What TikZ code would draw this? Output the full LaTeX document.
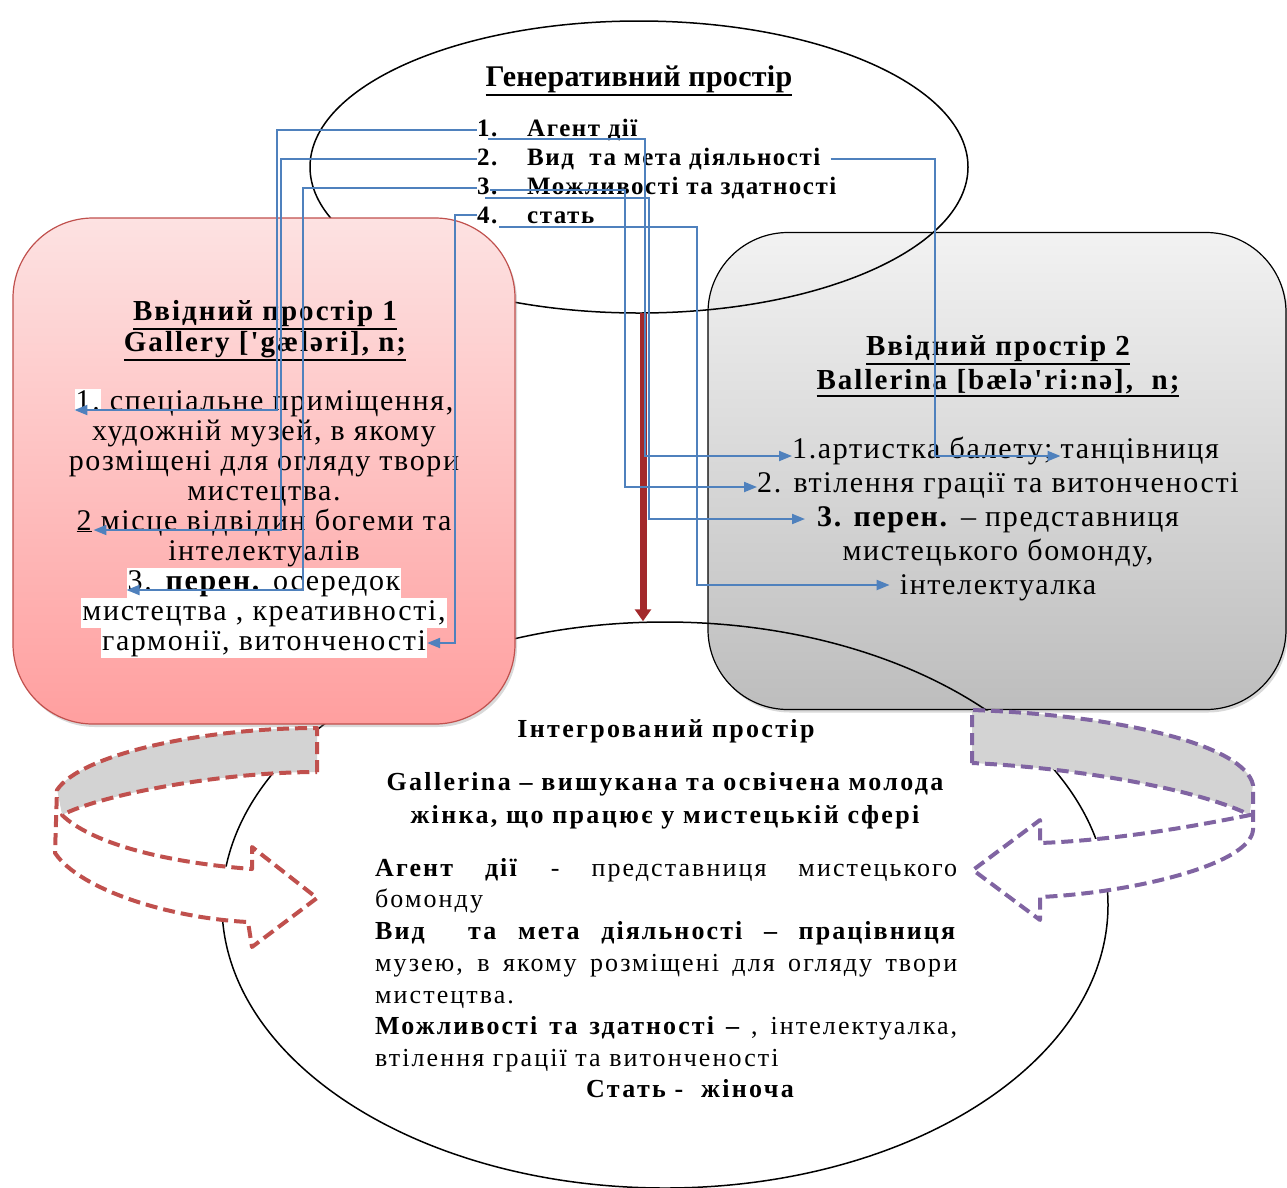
\documentclass[tikz,border=0pt]{standalone}
\usepackage{fontspec}
\setmainfont{Liberation Serif}[Ligatures=TeXOff]
\usepackage{tikz}
\usetikzlibrary{positioning,arrows.meta,shapes.geometric,shadows}

\definecolor{linkblue}{HTML}{4F81BD}
\definecolor{boxred}{HTML}{C0504D}
\definecolor{pinktop}{HTML}{FDE2E2}
\definecolor{pinkbot}{HTML}{FF9F9F}
\definecolor{graytop}{HTML}{F2F2F2}
\definecolor{graybot}{HTML}{BDBDBD}
\definecolor{arrowred}{HTML}{A3292B}
\definecolor{dashred}{HTML}{C0504D}
\definecolor{dashviolet}{HTML}{8064A2}
\definecolor{bandgray}{HTML}{D3D3D3}

\newcommand{\ulthick}[1]{\leavevmode\vtop{\hbox{#1}\kern2pt\hrule height 1.8pt}}
\newcommand{\fsz}[2]{\fontsize{#1}{#2}\selectfont}

\begin{document}
\begin{tikzpicture}[x=1pt, y=-1pt,
    space/.style={draw, ellipse, line width=1.5pt, inner sep=0pt},
    inbox/.style={rounded corners=80pt, line width=1.2pt, inner sep=0pt,
                  drop shadow={shadow xshift=2pt, shadow yshift=-3pt, opacity=0.3}},
    gtxt/.style={inner sep=0pt, anchor=base west,
                 font=\fsz{25}{29}\bfseries\addfontfeatures{LetterSpace=6}},
    hd/.style={inner sep=0pt, anchor=base,
               font=\fsz{29}{31}\bfseries\addfontfeatures{LetterSpace=7}},
    ln/.style={inner sep=0pt, anchor=base,
               font=\fsz{30}{30}\addfontfeatures{LetterSpace=5.5}},
    hl/.style={fill=white, inner xsep=1pt, inner ysep=0pt,
               text height=22pt, text depth=8pt},
    bhd/.style={inner sep=0pt, anchor=base,
                font=\fsz{26}{32}\bfseries\addfontfeatures{LetterSpace=9}},
    bt/.style={inner sep=0pt, font=\fsz{26}{31.7}\addfontfeatures{LetterSpace=8}},
    link/.style={draw=linkblue, line width=2pt, -{Triangle[length=13pt,width=10pt]}},
    flow/.style={draw=arrowred, line width=7pt, -{Triangle[length=12pt,width=16pt]}},
    turn/.style={line width=4pt, dash pattern=on 12pt off 6pt, line join=round},
  ]
  \useasboundingbox (0,0) rectangle (1287,1187);

  % input space 2 (behind the ellipses)
  \node[inbox, top color=graytop, bottom color=graybot, draw=black,
        minimum width=578pt, minimum height=477pt] (in2) at (997,471) {};

  % generic and blended spaces
  \node[space, minimum width=658pt, minimum height=292pt] (gen) at (639,167) {};
  \node[space, minimum width=886pt, minimum height=566pt] (blend) at (665,905) {};

  % input space 1
  \node[inbox, top color=pinktop, bottom color=pinkbot, draw=boxred,
        minimum width=502pt, minimum height=506pt] (in1) at (264,471) {};

  % projection arrow
  \coordinate (fstart) at (643,313);
  \draw[flow] (fstart) -- (fstart |- blend.north);

  % turning arrows into the blend
  \fill[bandgray] (317,728) .. controls (200,728) and (80,755) .. (57,790)
    -- (62,815) .. controls (100,795) and (220,772) .. (317,772) -- cycle;
  \fill[white] (57,790) -- (55,853) .. controls (80,890) and (170,918) .. (248,922)
    -- (252,947) -- (317,898) -- (252,847) -- (252,869)
    .. controls (160,862) and (90,842) .. (62,815) -- cycle;
  \draw[turn, dashred] (317,772) -- (317,728) .. controls (200,728) and (80,755) .. (57,790)
    -- (55,853) .. controls (80,890) and (170,918) .. (248,922)
    -- (252,947) -- (317,898) -- (252,847) -- (252,869)
    .. controls (160,862) and (90,842) .. (62,815)
    .. controls (100,795) and (220,772) .. (317,772) -- cycle;

  \fill[bandgray] (972,710) .. controls (1120,715) and (1245,745) .. (1253,785)
    -- (1250,815) .. controls (1200,790) and (1080,768) .. (972,763) -- cycle;
  \fill[white] (1253,785) -- (1253,830) .. controls (1250,865) and (1130,893) .. (1040,897)
    -- (1040,920) -- (973,870) -- (1040,820) -- (1040,843)
    .. controls (1120,840) and (1200,825) .. (1250,815) -- cycle;
  \draw[turn, dashviolet] (972,763) -- (972,710) .. controls (1120,715) and (1245,745) .. (1253,785)
    -- (1253,830) .. controls (1250,865) and (1130,893) .. (1040,897)
    -- (1040,920) -- (973,870) -- (1040,820) -- (1040,843)
    .. controls (1120,840) and (1200,825) .. (1250,815)
    .. controls (1200,790) and (1080,768) .. (972,763) -- cycle;

  % generic space text
  \node[inner sep=0pt, anchor=base, font=\fsz{30}{30}\bfseries\addfontfeatures{LetterSpace=1}]
    (gtitle) at (639,86) {\ulthick{Генеративний простір}};
  \node[gtxt] (g1) at (477,136) {\makebox[50pt][l]{1.}Агент дії};
  \node[gtxt] (g2) at (477,165) {\makebox[50pt][l]{2.}Вид\ \ та мета діяльності};
  \node[gtxt] (g3) at (477,194) {\makebox[50pt][l]{3.}Можливості та здатності};
  \node[gtxt] (g4) at (477,223) {\makebox[50pt][l]{4.}стать};

  % input space 1 text
  \node[hd] (a0) at (265,320) {\ulthick{Ввідний простір 1}};
  \node[hd] (a00) at (265,351) {\ulthick{Gallery ['gæləri], n;}};
  \node[ln] (a1) at (264,410) {{\setlength{\fboxsep}{1pt}\colorbox{white}{1.}} спеціальне приміщення,};
  \node[ln] (a2) at (264,440) {художній музей, в якому};
  \node[ln] (a3) at (264,470) {розміщені для огляду твори};
  \node[ln] (a4) at (264,500) {мистецтва.};
  \node[ln] (a5) at (264,530) {\underline{2} місце відвідин богеми та};
  \node[ln] (a6) at (264,560) {інтелектуалів};
  \node[ln, hl] (a7) at (264,590) {3. \textbf{перен.} осередок};
  \node[ln, hl] (a8) at (264,620) {мистецтва , креативності,};
  \node[ln, hl] (a9) at (264,650) {гармонії, витонченості};

  % input space 2 text
  \node[hd] (b0) at (998,355) {\ulthick{Ввідний простір 2}};
  \node[hd] (b00) at (998,389) {\ulthick{Ballerina [bælə'ri:nə],\ \ n;}};
  \node[ln, anchor=base west] (b1a) at (792,458) {1.артистка балету;};
  \node[ln, anchor=base west] (b1b) at ([xshift=8pt]b1a.base east) {танцівниця};
  \node[ln] (b2) at (998,492) {2. втілення грації та витонченості};
  \node[ln] (b3) at (998,526) {\textbf{3. перен.} – представниця};
  \node[ln] (b4) at (998,560) {мистецького бомонду,};
  \node[ln] (b5) at (998,594) {інтелектуалка};

  % blended space text
  \node[bhd] (c0) at (666,737) {Інтегрований простір};
  \node[bhd] (c1) at (665,790) {Gallerina – вишукана та освічена молода};
  \node[bhd] (c2) at (665,823) {жінка, що працює у мистецькій сфері};
  \node[bt, text width=582pt, align=justify, anchor=north west] (c3) at (375,858)
    {\textbf{Агент дії} - представниця мистецького\linebreak бомонду\par
     \textbf{Вид\ \ та мета діяльності – працівниця}\linebreak
     музею, в якому розміщені для огляду твори\linebreak мистецтва.\par
     \textbf{Можливості та здатності –} , інтелектуалка,\linebreak
     втілення грації та витонченості};
  \node[bhd] (c4) at (690,1097) {Стать -\ \ жіноча};

  % arrow ends
  \coordinate (e-a2) at ([xshift=17pt]a5.base west);
  \coordinate (e-b1) at ([yshift=2pt]b1a.base west);
  \coordinate (e-b1b) at ([yshift=2pt]b1b.base west);
  \coordinate (e-b2) at ([yshift=5pt]b2.base west);
  \coordinate (e-b3) at ([xshift=-12pt,yshift=7pt]b3.base west);
  \coordinate (e-b5) at ([xshift=-10pt,yshift=9pt]b5.base west);

  % rails of the connectors
  \coordinate (ra1) at (277,0);
  \coordinate (ra2) at (281,0);
  \coordinate (ra3) at (303,0);
  \coordinate (ra4) at (455,0);
  \coordinate (rb1) at (645,0);
  \coordinate (rb2) at (625,0);
  \coordinate (rb3) at (649,0);
  \coordinate (rb4) at (697,0);
  \coordinate (rb5) at (935,0);

  % generic space -> input space 1
  \draw[link] (g1.west) -| (ra1 |- a1.base) -- (a1.base west);
  \draw[link] (g2.west) -| (ra2 |- e-a2) -- (e-a2);
  \draw[link] (g3.west) -| (ra3 |- a7.base) -- (a7.base west);
  \draw[link] (g4.west) -| (ra4 |- a9.east) -- (a9.east);

  % generic space -> input space 2
  \draw[link] ([xshift=11pt,yshift=-3pt]g1.base west) -| (rb1 |- e-b1) -- (e-b1);
  \draw[link] ([xshift=10pt]g2.east) -| (rb5 |- e-b1b) -- (e-b1b);
  \draw[link] ([xshift=13pt,yshift=4pt]g3.base west) -| (rb2 |- e-b2) -- (e-b2);
  \draw[link] ([xshift=8pt,yshift=-4pt]g3.base west) -| (rb3 |- e-b3) -- (e-b3);
  \draw[link] ([xshift=22pt,yshift=-4pt]g4.base west) -| (rb4 |- e-b5) -- (e-b5);
\end{tikzpicture}
\end{document}
